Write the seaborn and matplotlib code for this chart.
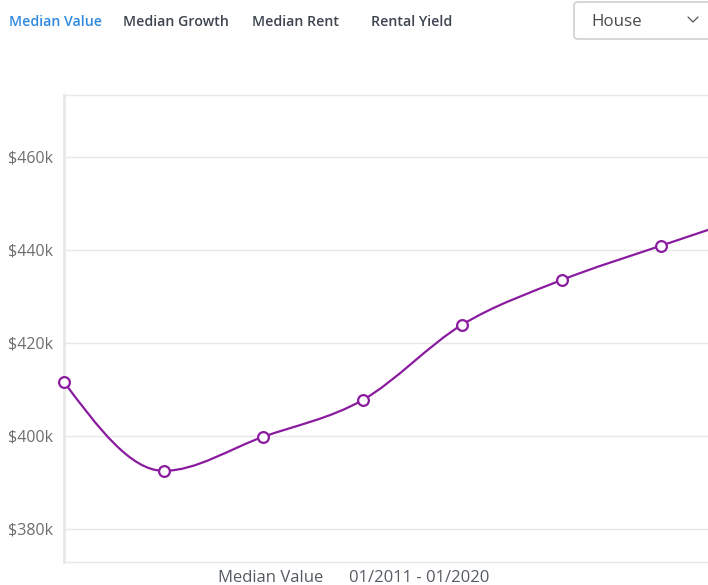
import numpy as np
import pandas as pd
import seaborn as sns
import matplotlib.pyplot as plt
from matplotlib.path import Path
from matplotlib.patches import PathPatch, FancyBboxPatch

# === data ===
years = ["01/2011", "01/2012", "01/2013", "01/2014", "01/2015", "01/2016", "01/2017", "01/2018"]
median_value = [411.6, 392.5, 399.8, 407.7, 423.9, 433.5, 440.9, 448.0]  # $k
y_ticks = [380, 400, 420, 440, 460]
tabs = ["Median Value", "Median Growth", "Median Rent", "Rental Yield"]

PURPLE = "#8a1b9f"
GRID = "#e8e8e8"

sns.set_theme(style="white")
plt.rcParams['font.family'] = ['Open Sans', 'DejaVu Sans']

df = pd.DataFrame({"idx": np.arange(len(years)), "year": years, "value": median_value})

fig = plt.figure(figsize=(7.08, 5.85), dpi=100)
ax = fig.add_axes([64 / 708, 23 / 585, 1 - 64 / 708, 467 / 585])


def monotone_path(x, y):
    # smooth curve like d3 curveMonotoneX, built as cubic bezier segments
    x = np.asarray(x, float)
    y = np.asarray(y, float)
    n = len(x)
    h = np.diff(x)
    s = np.diff(y) / h
    t = np.zeros(n)
    for i in range(1, n - 1):
        p = (s[i - 1] * h[i] + s[i] * h[i - 1]) / (h[i - 1] + h[i])
        t[i] = (np.sign(s[i - 1]) + np.sign(s[i])) * min(abs(s[i - 1]), abs(s[i]), 0.5 * abs(p))
    t[0] = (3 * s[0] - t[1]) / 2
    t[-1] = (3 * s[-1] - t[-2]) / 2
    verts = [(x[0], y[0])]
    codes = [Path.MOVETO]
    for i in range(n - 1):
        dx = h[i] / 3
        verts += [(x[i] + dx, y[i] + dx * t[i]), (x[i + 1] - dx, y[i + 1] - dx * t[i + 1]), (x[i + 1], y[i + 1])]
        codes += [Path.CURVE4] * 3
    return Path(verts, codes)


ax.add_patch(PathPatch(monotone_path(df["idx"], df["value"]), fill=False,
                       edgecolor=PURPLE, linewidth=1.6, zorder=3))

sns.scatterplot(data=df, x="idx", y="value", ax=ax, s=60, facecolor="white",
                edgecolor=PURPLE, linewidth=1.6, zorder=4, clip_on=False)

ax.set_xlim(0, (708 - 64) / 99.5)
ax.set_ylim(372.9, 473.3)
ax.set_yticks(y_ticks)
ax.set_yticklabels([f"${v}k" for v in y_ticks])
ax.set_xticks([])
ax.set_xlabel("")
ax.set_ylabel("")
ax.tick_params(axis="y", length=0, pad=8, labelsize=11.5, labelcolor="#6e6e6e")
ax.grid(axis="y", color=GRID, linewidth=1)
for side in ["top", "bottom"]:
    ax.spines[side].set_color(GRID)
    ax.spines[side].set_linewidth(1)
ax.spines["left"].set_color(GRID)
ax.spines["left"].set_linewidth(2)
ax.spines["right"].set_visible(False)

# tabs on top
tab_x = [9, 123, 252, 371]
for i, (label, x) in enumerate(zip(tabs, tab_x)):
    fig.text(x / 708, 1 - 21.5 / 585, label, fontsize=10.2, fontweight="semibold",
             color="#2f8ae0" if i == 0 else "#3d4550", va="center", ha="left")

# dropdown
box = FancyBboxPatch((574 / 708, 1 - 39 / 585), 160 / 708, 37 / 585,
                     boxstyle="round,pad=0,rounding_size=0.006", transform=fig.transFigure,
                     facecolor="white", edgecolor="#d0d0d0", linewidth=1.2)
fig.patches.append(box)
fig.text(591 / 708, 1 - 21.5 / 585, "House", fontsize=12.2, color="#4a4a4a", va="center", ha="left")
fig.lines.append(plt.Line2D([688 / 708, 693 / 708, 698 / 708],
                            [1 - 17 / 585, 1 - 22 / 585, 1 - 17 / 585],
                            transform=fig.transFigure, color="#555555", linewidth=0.9))

# bottom caption
fig.text(218 / 708, 1 - 577.5 / 585, "Median Value", fontsize=12, color="#555b63", va="center", ha="left")
fig.text(349 / 708, 1 - 577.5 / 585, f"{years[0]} - 01/2020", fontsize=12, color="#555b63",
         va="center", ha="left")

fig.savefig("out.png", dpi=100)
